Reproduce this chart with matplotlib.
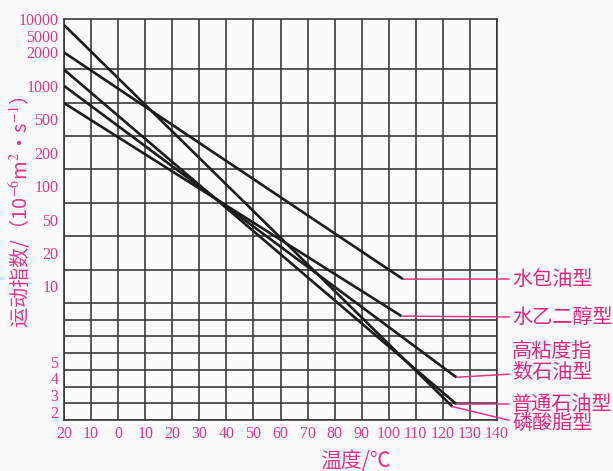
import numpy as np
import matplotlib.pyplot as plt

plt.rcParams['mathtext.fontset'] = 'stix'

# y axis labels and where they sit on the chart's row grid (rows counted from bottom)
tick_vals = [2, 3, 4, 5, 10, 20, 50, 100, 200, 500, 1000, 2000, 5000, 10000]
tick_rows = [0.5, 1.5, 2.5, 3.5, 8, 10, 12, 14, 16, 18, 20, 22, 23, 24]

temps = list(range(-20, 150, 10))
temp_labels = ['20', '10', '0'] + [str(t) for t in range(10, 150, 10)]

# fluid lines: start / end (temperature, viscosity)
names = ['磷酸脂型', '水包油型', '普通石油型', '高粘度指\n数石油型', '水乙二醇型']
t_start = [-20, -20, -20, -20, -20]
v_start = [7800, 2000, 1400, 1000, 700]
t_end = [123.5, 105.3, 125.0, 125.0, 104.7]
v_end = [2.26, 11.6, 2.4, 4.05, 7.6]

PINK = '#e6338a'
GRID = '#3a3a3a'

lt = np.log10(tick_vals)
rp = np.array(tick_rows, dtype=float)


def fwd(v):
    lv = np.log10(np.maximum(np.asarray(v, dtype=float), 1e-9))
    p = np.interp(lv, lt, rp)
    lo = rp[0] + (lv - lt[0]) * (rp[1] - rp[0]) / (lt[1] - lt[0])
    hi = rp[-1] + (lv - lt[-1]) * (rp[-1] - rp[-2]) / (lt[-1] - lt[-2])
    return np.where(lv < lt[0], lo, np.where(lv > lt[-1], hi, p))


def inv(p):
    p = np.asarray(p, dtype=float)
    lv = np.interp(p, rp, lt)
    lo = lt[0] + (p - rp[0]) * (lt[1] - lt[0]) / (rp[1] - rp[0])
    hi = lt[-1] + (p - rp[-1]) * (lt[-1] - lt[-2]) / (rp[-1] - rp[-2])
    return 10 ** np.where(p < rp[0], lo, np.where(p > rp[-1], hi, lv))


fig = plt.figure(figsize=(6.13, 4.71), dpi=100, facecolor='#fbfbfb')
ax = fig.add_axes([64 / 613, 51 / 471, 433 / 613, 401 / 471])
ax.set_facecolor('#fbfbfb')
ax.set_yscale('function', functions=(fwd, inv))
ax.set_xlim(-20, 140)
ax.set_ylim(float(inv(0)), 10000)

# grid: 16 columns, 24 rows
ax.set_xticks(temps)
ax.set_xticklabels(temp_labels)
ax.set_yticks(tick_vals)
ax.set_yticklabels([str(v) for v in tick_vals])
ax.set_yticks(inv(np.arange(0, 25)), minor=True)
ax.yaxis.set_minor_formatter(plt.NullFormatter())
ax.grid(True, axis='x', which='major', color=GRID, lw=1.2, zorder=1)
ax.grid(True, axis='y', which='minor', color=GRID, lw=1.2, zorder=1)
ax.tick_params(which='both', length=0)
ax.tick_params(axis='x', pad=4, labelsize=11.5, labelcolor=PINK)
ax.tick_params(axis='y', pad=4, labelsize=11.5, labelcolor=PINK)
for lab in ax.get_xticklabels() + ax.get_yticklabels():
    lab.set_fontfamily('Liberation Serif')
for s in ax.spines.values():
    s.set_color(GRID)
    s.set_linewidth(1.2)

for i in range(len(names)):
    ax.plot([t_start[i], t_end[i]], [v_start[i], v_end[i]], color='#1c1c1c',
            lw=1.9, zorder=3, solid_capstyle='butt')

# labels on the right with pink leader lines
label_px = [(512, 48), (512, 192), (512, 67), (512, 109), (512, 154)]
relpos = [(0, 0.6), (0, 0.5), (0, 0.5), (0, 0.22), (0, 0.5)]
for i in range(len(names)):
    ax.annotate(names[i], xy=(t_end[i], v_end[i]), xycoords='data',
                xytext=label_px[i], textcoords='figure pixels',
                ha='left', va='center', fontsize=14.5, color='#e0257f',
                family=['Noto Sans CJK SC', 'DejaVu Sans'], linespacing=1.05,
                annotation_clip=False,
                arrowprops=dict(arrowstyle='-', color=PINK, lw=1.1,
                                shrinkA=0, shrinkB=0, relpos=relpos[i]))

fig.text(20 / 613, 1 - 212 / 471, '运动指数/（10$^{-6}$m$^{2}$·s$^{-1}$）',
         rotation=90, ha='center', va='center', fontsize=14.5, color=PINK,
         family=['Noto Sans CJK SC', 'DejaVu Sans'])
fig.text(356 / 613, 1 - 461 / 471, '温度/℃', ha='center', va='center',
         fontsize=15, color=PINK, family=['Noto Sans CJK SC', 'DejaVu Sans'])

fig.savefig('out.png', dpi=100, facecolor=fig.get_facecolor())
